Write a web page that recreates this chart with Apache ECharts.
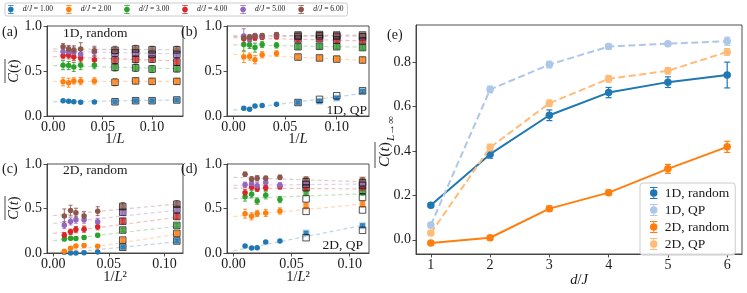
<!DOCTYPE html>
<html><head><meta charset="utf-8">
<script src="https://cdn.jsdelivr.net/npm/echarts@6/dist/echarts.min.js"></script>
<style>html,body{margin:0;padding:0;background:#fff}#c{width:747px;height:293px}</style>
</head><body><div id="c"></div>
<script>
// ---------------- data ----------------
const dJnames = ['d/J = 1.00','d/J = 2.00','d/J = 3.00','d/J = 4.00','d/J = 5.00','d/J = 6.00'];
const x1D = [0.01, 1/64, 1/48, 1/36, 1/24, 1/16, 1/12, 1/10, 1/8];   // first 5 circles, then squares
const x2D = [1/100, 1/64, 1/49, 1/36, 1/25, 1/16, 1/9];             // first 5 circles, then squares
const xTicks1D = [0, 0.05, 0.10];
const xTicks2D = [0, 0.05, 0.10];
const yTicksSmall = [0, 0.5, 1.0];

// (a) 1D random
const a1 = [0.17, 0.165, 0.158, 0.152, 0.155, 0.158, 0.17, 0.17, 0.178];
const a2 = [0.38, 0.37, 0.39, 0.387, 0.39, 0.375, 0.39, 0.385, 0.385];
const a3 = [0.565, 0.56, 0.545, 0.565, 0.565, 0.54, 0.535, 0.522, 0.525];
const a4 = [0.67, 0.675, 0.655, 0.645, 0.625, 0.62, 0.63, 0.632, 0.60];
const a5 = [0.715, 0.715, 0.705, 0.685, 0.71, 0.70, 0.70, 0.685, 0.685];
const a6 = [0.77, 0.745, 0.73, 0.745, 0.725, 0.73, 0.745, 0.735, 0.735];
const ea1 = [0.012,0.01,0.01,0.01,0.01,0.012,0.012,0.012,0.012];
const ea2 = [0.045,0.05,0.035,0.04,0.035,0.04,0.03,0.03,0.03];
const ea3 = [0.05,0.045,0.05,0.05,0.04,0.04,0.04,0.04,0.035];
const ea4 = [0.035,0.04,0.04,0.045,0.04,0.04,0.04,0.035,0.035];
const ea5 = [0.04,0.06,0.06,0.05,0.05,0.04,0.04,0.04,0.035];
const ea6 = [0.035,0.04,0.05,0.07,0.05,0.045,0.04,0.04,0.04];
const fitA = [[0.158,0.178],[0.385,0.385],[0.56,0.525],[0.66,0.612],[0.72,0.69],[0.745,0.735]];

// (b) 1D QP
const b1 = [0.085, 0.075, 0.11, 0.117, 0.13, 0.15, 0.165, 0.2, 0.275];
const b2 = [0.655, 0.66, 0.625, 0.68, 0.695, 0.655, 0.645, 0.632, 0.622];
const b3 = [0.795, 0.79, 0.76, 0.795, 0.785, 0.77, 0.775, 0.77, 0.76];
const b4 = [0.86, 0.855, 0.87, 0.875, 0.88, 0.855, 0.86, 0.845, 0.835];
const b5 = [0.89, 0.855, 0.895, 0.885, 0.9, 0.885, 0.89, 0.885, 0.88];
const b6 = [0.87, 0.875, 0.89, 0.895, 0.905, 0.9, 0.905, 0.9, 0.9];
const eb1 = [0.015,0.012,0.01,0.01,0.01,0.01,0.012,0.012,0.015];
const eb2 = [0.06,0.04,0.045,0.035,0.03,0.025,0.025,0.025,0.03];
const eb3 = [0.07,0.04,0.05,0.035,0.03,0.025,0.025,0.025,0.025];
const eb4 = [0.04,0.03,0.03,0.025,0.025,0.025,0.025,0.025,0.025];
const eb5 = [0.08,0.04,0.02,0.02,0.02,0.02,0.02,0.02,0.02];
const eb6 = [0.03,0.03,0.02,0.02,0.02,0.02,0.02,0.02,0.02];
const fitB = [[0.065,0.25],[0.685,0.62],[0.79,0.765],[0.87,0.835],[0.89,0.885],[0.885,0.9]];
const blkB1 = [0.15, 0.185, 0.225, 0.28];

// (c) 2D random
const c1 = [-0.005, 0.0, 0.0, 0.002, 0.012, 0.065, 0.135];
const c2 = [0.02, 0.052, 0.078, 0.085, 0.075, 0.145, 0.22];
const c3 = [0.157, 0.167, 0.162, 0.175, 0.2, 0.258, 0.31];
const c4 = [0.2, 0.238, 0.263, 0.268, 0.295, 0.358, 0.41];
const c5 = [0.313, 0.355, 0.375, 0.375, 0.35, 0.457, 0.489];
const c6 = [0.415, 0.477, 0.453, 0.415, 0.47, 0.522, 0.548];
const ec1 = [0.01,0.01,0.01,0.01,0.01,0.012,0.015];
const ec2 = [0.012,0.015,0.015,0.015,0.015,0.02,0.02];
const ec3 = [0.02,0.02,0.015,0.02,0.02,0.02,0.02];
const ec4 = [0.03,0.03,0.035,0.035,0.035,0.03,0.03];
const ec5 = [0.04,0.04,0.04,0.04,0.04,0.03,0.03];
const ec6 = [0.08,0.06,0.05,0.05,0.05,0.045,0.04];
const fitC = [[-0.01,0.125],[0.0,0.21],[0.14,0.30],[0.22,0.40],[0.33,0.48],[0.42,0.55]];

// (d) 2D QP
const d1 = [0.078, 0.057, 0.058, 0.124, 0.135, 0.224, 0.306];
const d2 = [0.442, 0.412, 0.445, 0.45, 0.472, 0.532, 0.548];
const d3 = [0.633, 0.66, 0.583, 0.648, 0.6, 0.682, 0.68];
const d4 = [0.676, 0.742, 0.722, 0.732, 0.747, 0.728, 0.733];
const d5 = [0.767, 0.777, 0.755, 0.792, 0.76, 0.778, 0.78];
const d6 = [0.885, 0.83, 0.84, 0.84, 0.85, 0.826, 0.82];
const ed1 = [0.012,0.01,0.01,0.012,0.012,0.015,0.02];
const ed2 = [0.05,0.04,0.035,0.04,0.035,0.03,0.03];
const ed3 = [0.05,0.04,0.035,0.04,0.035,0.03,0.03];
const ed4 = [0.04,0.03,0.03,0.03,0.03,0.03,0.03];
const ed5 = [0.03,0.03,0.04,0.03,0.03,0.03,0.03];
const ed6 = [0.025,0.03,0.03,0.025,0.025,0.03,0.03];
const fitD = [[0.025,0.31],[0.41,0.55],[0.61,0.665],[0.73,0.72],[0.76,0.775],[0.85,0.80]];
const blkD1 = [0.172, 0.255], blkD2 = [0.468, 0.483], blkD3 = [0.608, 0.625],
      blkD4 = [0.735, 0.705], blkD5 = [0.77, 0.76], blkD6 = [0.80, 0.79];

// (e) L -> infinity
const eNames = ['1D, random', '1D, QP', '2D, random', '2D, QP'];
const dJ = [1, 2, 3, 4, 5, 6];
const e1Dr = [0.155, 0.385, 0.56, 0.662, 0.709, 0.741];
const e1Dq = [0.066, 0.676, 0.788, 0.869, 0.882, 0.893];
const e2Dr = [-0.015, 0.009, 0.14, 0.212, 0.319, 0.418];
const e2Dq = [0.03, 0.415, 0.614, 0.724, 0.76, 0.845];
const ee1Dr = [0.01, 0.018, 0.024, 0.023, 0.024, 0.058];
const ee1Dq = [0.012, 0.015, 0.015, 0.012, 0.01, 0.018];
const ee2Dr = [0.008, 0.01, 0.012, 0.012, 0.02, 0.025];
const ee2Dq = [0.01, 0.015, 0.015, 0.015, 0.015, 0.015];
const eTicksX = [1, 2, 3, 4, 5, 6];
const eTicksY = [0, 0.2, 0.4, 0.6, 0.8];

// ---------------- styling ----------------
const FONT = 'Liberation Serif';
const TXT = '#1a1a1a';
const AX = '#3a3a3a';
const TICKFS = 14;
const COL = ['#1f77b4','#ff7f0e','#2ca02c','#d62728','#9467bd','#8c564b'];
const eCol = ['#1f77b4', '#aec7e8', '#ff7f0e', '#ffbb78'];
function rgba(h, a) { const n = parseInt(h.slice(1), 16); return `rgba(${n>>16},${(n>>8)&255},${n&255},${a})`; }
const ICON = 'path://M0.2,0h5.6v0.7h-5.6z M2.65,0h0.7v9h-0.7z M0.2,8.3h5.6v0.7h-5.6z M0.2,4.5a2.8,2.8 0 1,1 5.6,0a2.8,2.8 0 1,1 -5.6,0z';

const grids = [
  {left: 47, top: 26, width: 136, height: 90},
  {left: 227, top: 26, width: 142, height: 90},
  {left: 47, top: 164, width: 136, height: 89},
  {left: 227, top: 164, width: 142, height: 89},
  {left: 416, top: 25, width: 326, height: 229}
].map(g => Object.assign({show: true, borderColor: AX, borderWidth: 0.9, backgroundColor: 'transparent'}, g));

function mkX(gi, min, max, ticks, fmt) {
  return {type: 'value', gridIndex: gi, min, max,
    axisLine: {show: true, onZero: false, lineStyle: {color: AX, width: 0.9}},
    axisTick: {show: true, length: 3.5, customValues: ticks, lineStyle: {color: AX, width: 0.9}},
    axisLabel: {customValues: ticks, formatter: fmt, fontFamily: FONT, fontSize: TICKFS, color: TXT, margin: 4},
    splitLine: {show: false}};
}
function mkY(gi, min, max, ticks, fmt) {
  return {type: 'value', gridIndex: gi, min, max,
    axisLine: {show: true, onZero: false, lineStyle: {color: AX, width: 0.9}},
    axisTick: {show: true, length: 3.5, customValues: ticks, lineStyle: {color: AX, width: 0.9}},
    axisLabel: {customValues: ticks, formatter: fmt, fontFamily: FONT, fontSize: TICKFS, color: TXT, margin: 5},
    splitLine: {show: false}};
}
const f2 = v => v.toFixed(2), f1 = v => v.toFixed(1), f0 = v => String(v);
const xAxis = [
  mkX(0, -0.00625, 0.13125, xTicks1D, f2), mkX(1, -0.00625, 0.13125, xTicks1D, f2),
  mkX(2, -0.00556, 0.11667, xTicks2D, f2), mkX(3, -0.00556, 0.11667, xTicks2D, f2),
  mkX(4, 0.75, 6.25, eTicksX, f0)
];
const yAxis = [
  mkY(0, 0, 1, yTicksSmall, f1), mkY(1, 0, 1, yTicksSmall, f1),
  mkY(2, 0, 1, yTicksSmall, f1), mkY(3, 0, 1, yTicksSmall, f1),
  mkY(4, -0.064, 0.966, eTicksY, f1)
];

function errSeries(gi, data, color, cap, lw, z) {
  return {type: 'custom', xAxisIndex: gi, yAxisIndex: gi, z, silent: true,
    encode: {x: 0, y: [1, 2]}, data,
    renderItem(params, api) {
      const x = api.value(0), lo = api.value(1), hi = api.value(2);
      const a = api.coord([x, hi]), b = api.coord([x, lo]);
      const st = {stroke: color, lineWidth: lw};
      return {type: 'group', children: [
        {type: 'line', shape: {x1: a[0], y1: a[1], x2: b[0], y2: b[1]}, style: st},
        {type: 'line', shape: {x1: a[0]-cap, y1: a[1], x2: a[0]+cap, y2: a[1]}, style: st},
        {type: 'line', shape: {x1: b[0]-cap, y1: b[1], x2: b[0]+cap, y2: b[1]}, style: st}
      ]};
    }};
}

const panels = [
  {gi: 0, xs: x1D, nC: 5, vals: [a1,a2,a3,a4,a5,a6], errs: [ea1,ea2,ea3,ea4,ea5,ea6], fits: fitA, blk: [null,null,null,null,null,null]},
  {gi: 1, xs: x1D, nC: 5, vals: [b1,b2,b3,b4,b5,b6], errs: [eb1,eb2,eb3,eb4,eb5,eb6], fits: fitB, blk: [blkB1,null,null,null,null,null]},
  {gi: 2, xs: x2D, nC: 5, vals: [c1,c2,c3,c4,c5,c6], errs: [ec1,ec2,ec3,ec4,ec5,ec6], fits: fitC, blk: [null,null,null,null,null,null]},
  {gi: 3, xs: x2D, nC: 5, vals: [d1,d2,d3,d4,d5,d6], errs: [ed1,ed2,ed3,ed4,ed5,ed6], fits: fitD, blk: [blkD1,blkD2,blkD3,blkD4,blkD5,blkD6]}
];

const series = [];
panels.forEach(p => {
  const xmax = p.xs[p.xs.length - 1];
  for (let i = 0; i < 6; i++) {
    series.push({type: 'line', xAxisIndex: p.gi, yAxisIndex: p.gi, silent: true, z: 1,
      data: [[0, p.fits[i][0]], [xmax, p.fits[i][1]]], symbol: 'none',
      lineStyle: {color: rgba(COL[i], 0.3), width: 1.2, type: [4, 3]}});
  }
  for (let i = 0; i < 6; i++) {
    const c = COL[i], v = p.vals[i], e = p.errs[i];
    series.push(errSeries(p.gi, p.xs.map((x, k) => [x, v[k] - e[k], v[k] + e[k]]), rgba(c, 0.85), 2, 1, 2 + i * 0.1));
    series.push({type: 'scatter', name: dJnames[i], xAxisIndex: p.gi, yAxisIndex: p.gi, z: 3 + i * 0.1, silent: true,
      symbol: 'circle', symbolSize: 5.5, itemStyle: {color: c, opacity: 1},
      data: p.xs.slice(0, p.nC).map((x, k) => [x, v[k]])});
    series.push({type: 'scatter', xAxisIndex: p.gi, yAxisIndex: p.gi, z: 3 + i * 0.1, silent: true,
      symbol: 'rect', symbolSize: 5, itemStyle: {color: c, borderColor: rgba(c, 0.35), borderWidth: 2},
      data: p.xs.slice(p.nC).map((x, k) => [x, v[p.nC + k]])});
    const bv = p.blk[i] || v.slice(p.nC);
    series.push({type: 'scatter', xAxisIndex: p.gi, yAxisIndex: p.gi, z: 4 + i * 0.1, silent: true,
      symbol: 'rect', symbolSize: 6.5, itemStyle: {color: 'rgba(0,0,0,0)', borderColor: '#111', borderWidth: 0.9},
      data: p.xs.slice(p.nC).map((x, k) => [x, bv[k]])});
  }
});

const eVals = [e1Dr, e1Dq, e2Dr, e2Dq], eErrs = [ee1Dr, ee1Dq, ee2Dr, ee2Dq];
eVals.forEach((v, j) => {
  const dashed = (j % 2 === 1);
  series.push({type: 'line', name: eNames[j], xAxisIndex: 4, yAxisIndex: 4, z: 3 + j * 0.1, silent: true,
    data: dJ.map((d, k) => [d, v[k]]), symbol: 'circle', symbolSize: 7.5, showSymbol: true,
    itemStyle: {color: eCol[j], opacity: 1},
    lineStyle: {color: eCol[j], width: 2, type: dashed ? [7, 3.5] : 'solid'}});
  series.push(errSeries(4, dJ.map((d, k) => [d, v[k] - eErrs[j][k], v[k] + eErrs[j][k]]), eCol[j], 3, 1.2, 3 + j * 0.1));
});

const legend = [
  {data: dJnames, icon: ICON, left: 5, top: 3, orient: 'horizontal',
   itemWidth: 14, itemHeight: 9, itemGap: 13, padding: [2, 4, 2, 3],
   borderColor: '#cccccc', borderWidth: 1, borderRadius: 2, backgroundColor: 'rgba(255,255,255,0.8)',
   selectedMode: false,
   formatter: n => '{i|d/J}{n| = ' + n.split('= ')[1] + '}',
   textStyle: {fontFamily: FONT, fontSize: 7.5, color: TXT, width: 34.5,
     rich: {i: {fontFamily: FONT, fontSize: 7.5, fontStyle: 'italic', color: TXT},
            n: {fontFamily: FONT, fontSize: 7.5, color: TXT}}}},
  {data: eNames, icon: ICON, left: 640, top: 183, orient: 'vertical',
   itemWidth: 12, itemHeight: 12, itemGap: 3, padding: [3, 6, 4, 10],
   borderColor: '#cccccc', borderWidth: 1, borderRadius: 3, backgroundColor: 'rgba(255,255,255,0.8)',
   selectedMode: false,
   textStyle: {fontFamily: FONT, fontSize: 13.5, color: TXT, width: 68}}
];

function T(text, x, y, size, align, rich) {
  return {type: 'text', x, y, silent: true, style: {text, fill: TXT, font: size + 'px "' + FONT + '"',
    align: align || 'left', verticalAlign: 'middle', textAlign: align || 'left', textVerticalAlign: 'middle', rich: rich || undefined}};
}
const R = s => ({i: {fontFamily: FONT, fontSize: s, fontStyle: 'italic', fill: TXT, color: TXT},
                 n: {fontFamily: FONT, fontSize: s, fill: TXT, color: TXT},
                 s: {fontFamily: FONT, fontSize: s * 0.72, fill: TXT, color: TXT}});
function ylab(x, y) {
  return {type: 'group', x, y, rotation: Math.PI / 2, silent: true, children: [
    T('{i|C}{n|(}{i|t}{n|)}', 0, 0, 14.5, 'center', R(14.5)),
    {type: 'line', shape: {x1: -12, y1: -9, x2: 12, y2: -9}, style: {stroke: TXT, lineWidth: 0.8}}
  ]};
}
const graphic = [
  T('(a)', 2, 32, 14), T('(b)', 181, 32, 14), T('(c)', 2, 169, 14), T('(d)', 181, 169, 14), T('(e)', 387, 35, 14),
  T('1D, random', 63, 33, 13.5), T('1D, QP', 367, 110, 13.5, 'right'),
  T('2D, random', 63, 170, 13.5), T('2D, QP', 363, 245, 13.5, 'right'),
  T('{n|1/}{i|L}', 115, 139, 14.5, 'center', R(14.5)), T('{n|1/}{i|L}', 298, 139, 14.5, 'center', R(14.5)),
  T('{n|1/}{i|L}{n|²}', 115, 277, 14.5, 'center', R(14.5)), T('{n|1/}{i|L}{n|²}', 298, 277, 14.5, 'center', R(14.5)),
  T('{i|d}{n|/}{i|J}', 579, 280, 14.5, 'center', R(14.5)),
  ylab(14, 71), ylab(14, 208),
  {type: 'group', x: 385, y: 140, rotation: Math.PI / 2, silent: true, children: [
    T('{i|C}{n|(}{i|t}{n|)}', -2, 0, 15.5, 'right', R(15.5)),
    {type: 'line', shape: {x1: -28, y1: -10, x2: -2, y2: -10}, style: {stroke: TXT, lineWidth: 0.8}},
    T('{i|L}{n|→∞}', -1, 6, 11, 'left', R(11))
  ]}
];

const chart = echarts.init(document.getElementById('c'), null, {renderer: 'canvas'});
chart.setOption({animation: false, backgroundColor: '#fff', grid: grids, xAxis, yAxis, series, legend, graphic});
</script></body></html>
